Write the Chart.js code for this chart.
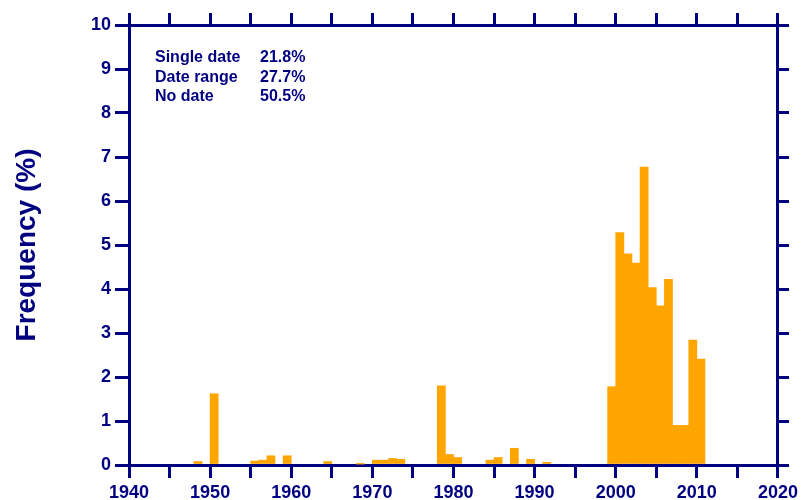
<!DOCTYPE html>
<html>
<head>
<meta charset="utf-8">
<script src="https://cdn.jsdelivr.net/npm/chart.js@4/dist/chart.umd.min.js"></script>
<style>
  body { margin: 0; background: #fff; }
</style>
</head>
<body>
<canvas id="freqChart" width="802" height="500"></canvas>
<script>
const years = [1948, 1950, 1955, 1956, 1957, 1959, 1964, 1968, 1970, 1971, 1972, 1973,
  1978, 1979, 1980, 1984, 1985, 1987, 1989, 1991,
  1999, 2000, 2001, 2002, 2003, 2004, 2005, 2006, 2007, 2008, 2009, 2010];
const freq = [0.08, 1.62, 0.09, 0.11, 0.21, 0.21, 0.08, 0.02, 0.11, 0.11, 0.15, 0.13,
  1.80, 0.24, 0.17, 0.11, 0.17, 0.38, 0.13, 0.06,
  1.78, 5.28, 4.80, 4.59, 6.77, 4.03, 3.62, 4.22, 0.90, 0.90, 2.84, 2.41];
const noteLabels = ["Single date", "Date range", "No date"];
const noteValues = ["21.8%", "27.7%", "50.5%"];

const navy = "#000080";
const font = "'Liberation Sans', Arial, sans-serif";

// draws the little summary block in the upper left corner
const notes = {
  id: "notes",
  afterDraw(chart) {
    const c = chart.ctx;
    c.save();
    c.fillStyle = navy;
    c.font = "bold 16px " + font;
    c.textBaseline = "middle";
    noteLabels.forEach((t, i) => {
      const y = 58 + i * 19.5;
      c.fillText(t, 155, y);
      c.fillText(noteValues[i], 260, y);
    });
    c.restore();
  }
};

const axisGrid = len => ({
  drawOnChartArea: false,
  drawTicks: true,
  tickLength: len,
  color: navy,
  lineWidth: 3,
  offset: false,
});
const axisBorder = { color: navy, width: 3 };

new Chart(document.getElementById("freqChart").getContext("2d"), {
  type: "bar",
  data: {
    datasets: [{
      data: years.map((y, i) => ({ x: y + 0.5, y: freq[i] })),
      backgroundColor: "#FFA500",
      borderWidth: 0,
      barPercentage: 1,
      categoryPercentage: 1,
    }],
  },
  options: {
    responsive: false,
    animation: false,
    layout: { padding: 0 },
    plugins: { legend: { display: false }, tooltip: { enabled: false } },
    scales: {
      x: {
        type: "linear",
        position: "bottom",
        offset: false,
        min: 1940, max: 2020,
        grid: axisGrid(13),
        border: axisBorder,
        ticks: {
          stepSize: 5,
          autoSkip: false,
          maxRotation: 0,
          padding: 4,
          color: navy,
          font: { family: font, size: 18, weight: "bold" },
          callback: v => (v % 10 === 0 ? v : ""),
        },
        afterFit: s => { s.height = 35; },
      },
      x2: {
        type: "linear",
        position: "top",
        offset: false,
        min: 1940, max: 2020,
        grid: axisGrid(12),
        border: axisBorder,
        ticks: { stepSize: 5, autoSkip: false, display: false },
        afterFit: s => { s.height = 25; },
      },
      y: {
        position: "left",
        min: 0, max: 10,
        grid: axisGrid(14),
        border: axisBorder,
        ticks: {
          stepSize: 1,
          padding: 4,
          color: navy,
          font: { family: font, size: 18, weight: "bold" },
        },
        title: {
          display: true,
          text: "Frequency (%)",
          color: navy,
          font: { family: font, size: 28, weight: "bold", lineHeight: 1.2 },
          padding: { top: 10, bottom: 0 },
        },
        afterFit: s => { s.width = 129; },
      },
      y2: {
        position: "right",
        min: 0, max: 10,
        grid: axisGrid(11),
        border: axisBorder,
        ticks: { stepSize: 1, display: false },
        afterFit: s => { s.width = 22; },
      },
    },
  },
  plugins: [notes],
});
</script>
</body>
</html>
